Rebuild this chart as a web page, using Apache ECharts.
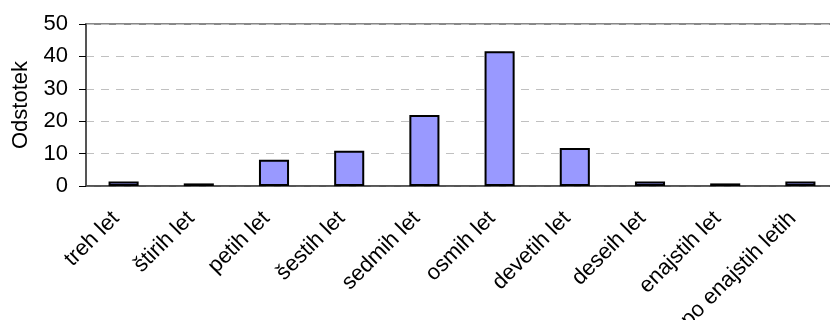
<!DOCTYPE html>
<html>
<head>
<meta charset="utf-8">
<script src="https://cdn.jsdelivr.net/npm/echarts@6/dist/echarts.min.js"></script>
<style>
  html, body { margin: 0; padding: 0; background: #fff; }
  #main { width: 830px; height: 320px; }
</style>
</head>
<body>
<div id="main"></div>
<script>
// 카테고리와 값
var categories = ['treh let', 'štirih let', 'petih let', 'šestih let', 'sedmih let',
                  'osmih let', 'devetih let', 'deseih let', 'enajstih let', 'po enajstih letih'];
var values = [1.4, 0.8, 8.1, 10.9, 21.9, 41.6, 11.7, 1.4, 0.8, 1.4];
var yTicks = { min: 0, max: 50, step: 10 };
var yName = 'Odstotek';

var myChart = echarts.init(document.getElementById('main'));

var option = {
    animation: false,
    textStyle: { fontFamily: 'Liberation Sans, Arial, sans-serif' },
    grid: {
        left: 86,
        top: 24,
        right: -8,
        bottom: 134,
        show: true,
        borderColor: '#888888',
        borderWidth: 2,
        outerBoundsMode: 'none',
        containLabel: false
    },
    xAxis: {
        type: 'category',
        data: categories,
        axisLine: { lineStyle: { color: '#444', width: 1.5 } },
        axisTick: { length: 7, lineStyle: { color: '#000' } },
        axisLabel: {
            rotate: 45,
            margin: 37,
            verticalAlign: 'bottom',
            interval: 0,
            fontSize: 22,
            color: '#000',
            fontFamily: 'Liberation Sans'
        }
    },
    yAxis: {
        type: 'value',
        min: yTicks.min,
        max: yTicks.max,
        interval: yTicks.step,
        name: yName,
        nameLocation: 'middle',
        nameGap: 54,
        nameTextStyle: { fontSize: 22, color: '#000', fontFamily: 'Liberation Sans' },
        axisLine: { show: true, lineStyle: { color: '#444', width: 1.5 } },
        axisTick: { show: true, length: 7, lineStyle: { color: '#000' } },
        axisLabel: { margin: 18, fontSize: 22, color: '#000', fontFamily: 'Liberation Sans' },
        splitLine: {
            lineStyle: { color: '#c0c0c0', type: [8, 7], width: 1 }
        }
    },
    series: [
        {
            type: 'bar',
            data: values,
            barWidth: '40%',
            itemStyle: {
                color: '#9999ff',
                borderColor: '#000',
                borderWidth: 2
            }
        }
    ]
};

myChart.setOption(option);
</script>
</body>
</html>
